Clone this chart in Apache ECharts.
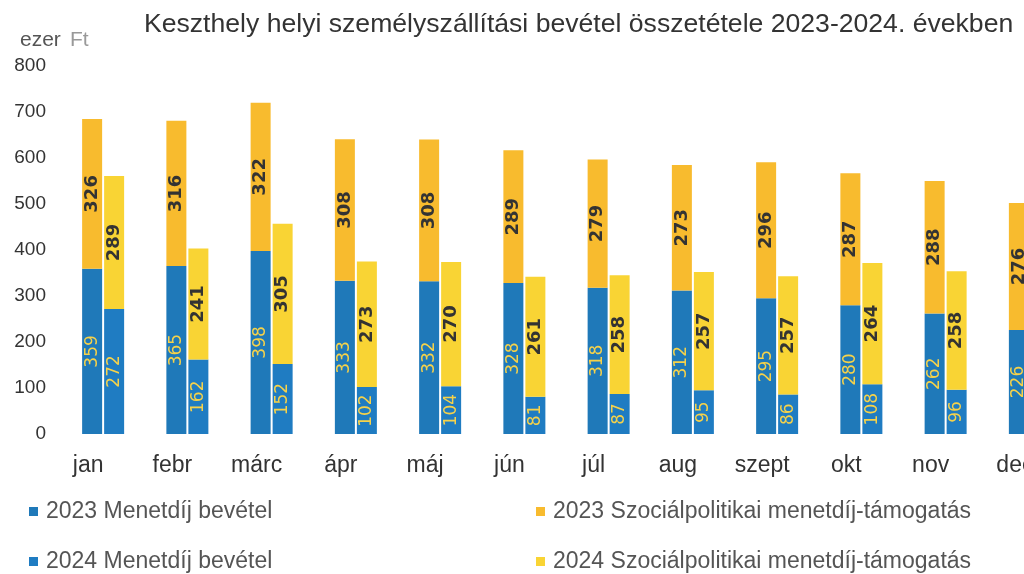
<!DOCTYPE html>
<html><head><meta charset="utf-8">
<script src="https://cdn.jsdelivr.net/npm/echarts@6/dist/echarts.min.js"></script>
<style>html,body{margin:0;padding:0;background:#fff;overflow:hidden;width:1024px;height:574px}#c{width:1072px;height:574px}</style>
</head><body><div id="c"></div>
<script>
const months = ['jan','febr','márc','ápr','máj','jún','júl','aug','szept','okt','nov','dec'];
const fare2023 = [359,365,398,333,332,328,318,312,295,280,262,226];
const social2023 = [326,316,322,308,308,289,279,273,296,287,288,276];
const fare2024 = [272,162,152,102,104,81,87,95,86,108,96,null];
const social2024 = [289,241,305,273,270,261,258,257,257,264,258,null];
const yTicks = [0,100,200,300,400,500,600,700,800];

const cBlue23 = '#1f79b9', cBlue24 = '#1f7cc2', cOrange = '#f8bb2e', cYellow = '#f9d434';
const blueLabel = {show:true, position:'inside', rotate:90, color:'#f6d24a', fontSize:17, fontFamily:'DejaVu Sans', fontWeight:'normal'};
const darkLabel = {show:true, position:'inside', rotate:90, color:'#333', fontSize:18, fontFamily:'DejaVu Sans', fontWeight:'bold'};
const legendText = {fontFamily:'Liberation Sans', fontSize:23, color:'#555', padding:[0,0,0,3]};
function leg(name, left, top){
  return {left:left, top:top, itemWidth:9, itemHeight:9, icon:'rect', textStyle:legendText, data:[name]};
}

const chart = echarts.init(document.getElementById('c'));
chart.setOption({
  animation:false,
  title:{text:'Keszthely helyi személyszállítási bevétel összetétele 2023-2024. években', left:139, top:6,
    textStyle:{fontFamily:'Liberation Sans', fontSize:26.6, fontWeight:'normal', color:'#333'}},
  graphic:[{type:'text', left:20, top:30, style:{text:'ezer', font:'21px "Liberation Sans"', fill:'#555'}},
           {type:'text', left:70, top:30, style:{text:'Ft', font:'21px "Liberation Sans"', fill:'#999'}}],
  legend:[
    leg('2023 Menetdíj bevétel', 24, 495),
    leg('2024 Menetdíj bevétel', 24, 545),
    leg('2023 Szociálpolitikai menetdíj-támogatás', 531, 495),
    leg('2024 Szociálpolitikai menetdíj-támogatás', 531, 545)
  ],
  grid:{left:61, right:0, top:66, bottom:140, containLabel:false},
  xAxis:{type:'category', data:months, axisLine:{show:false}, axisTick:{show:false},
    axisLabel:{fontFamily:'Liberation Sans', fontSize:23, color:'#333', margin:20, padding:[0,30,0,0]}},
  yAxis:{type:'value', min:yTicks[0], max:yTicks[yTicks.length-1], interval:100, splitLine:{show:false},
    axisLine:{show:false}, axisTick:{show:false},
    axisLabel:{fontFamily:'Liberation Sans', fontSize:19, color:'#333', margin:15}},
  series:[
    {name:'2023 Menetdíj bevétel', type:'bar', stack:'y2023', data:fare2023, barWidth:20, barGap:'10%',
     itemStyle:{color:cBlue23}, label:blueLabel},
    {name:'2023 Szociálpolitikai menetdíj-támogatás', type:'bar', stack:'y2023', data:social2023, barWidth:20,
     itemStyle:{color:cOrange}, label:darkLabel},
    {name:'2024 Menetdíj bevétel', type:'bar', stack:'y2024', data:fare2024, barWidth:20, barGap:'10%',
     itemStyle:{color:cBlue24}, label:blueLabel},
    {name:'2024 Szociálpolitikai menetdíj-támogatás', type:'bar', stack:'y2024', data:social2024, barWidth:20,
     itemStyle:{color:cYellow}, label:darkLabel}
  ]
});
</script></body></html>
